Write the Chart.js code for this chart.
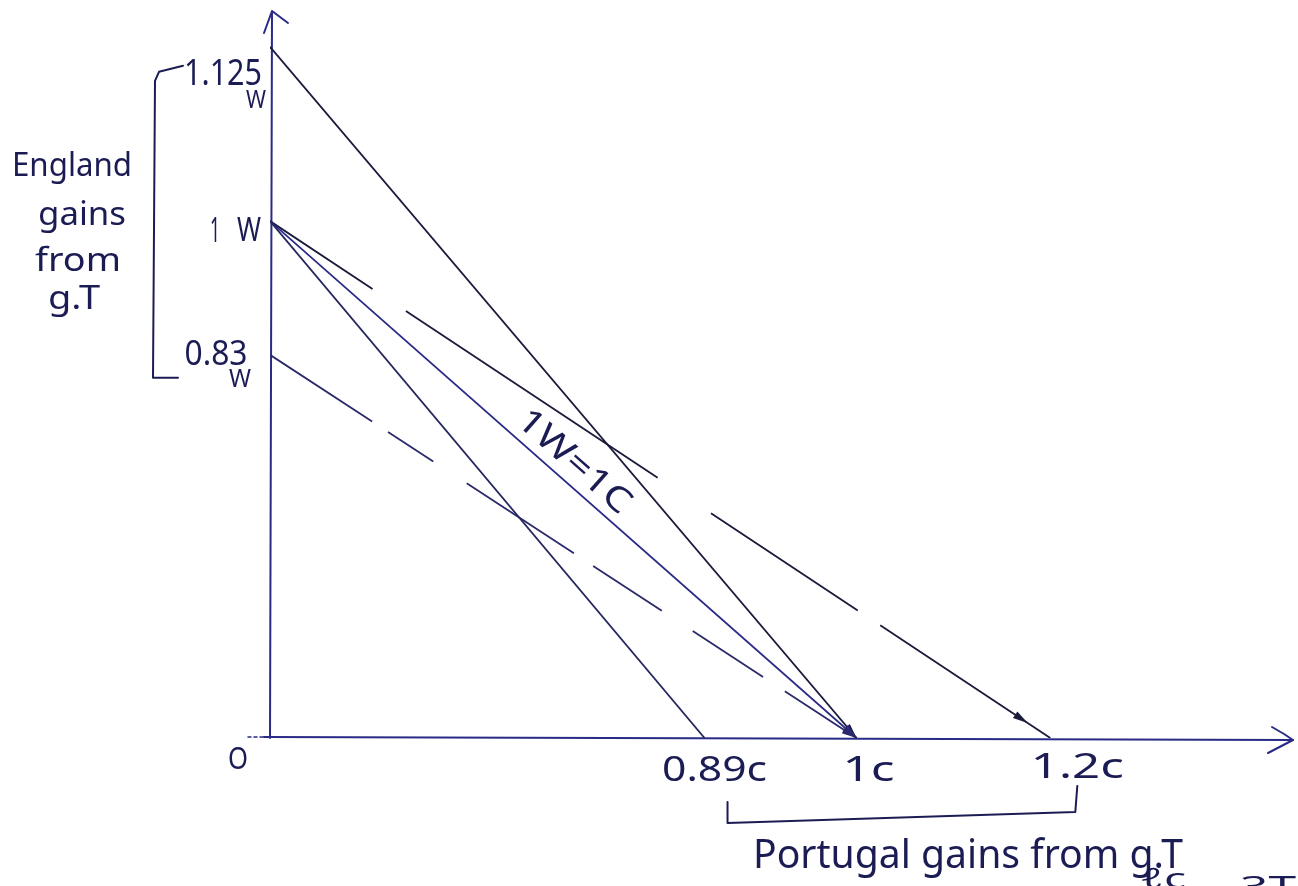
<!DOCTYPE html>
<html>
<head>
<meta charset="utf-8">
<script src="https://cdn.jsdelivr.net/npm/chart.js@4.4.1/dist/chart.umd.min.js"></script>
<style>
  html, body { margin: 0; padding: 0; background: #ffffff; }
  canvas { display: block; }
</style>
</head>
<body>
<canvas id="chart" width="1298" height="886"></canvas>
<script>
// ---------------- DATA ----------------
// England's wine quantities on the vertical axis (W)
const wineTicks = [0.83, 1, 1.125];
const wineTickLabels = ['0.83', '1', '1.125'];
// Portugal's cloth quantities on the horizontal axis (C)
const clothTicks = [0.89, 1, 1.2];
const clothTickLabels = ['0.89c', '1c', '1.2c'];
// Terms-of-trade lines: each runs from (0, startW) to (endC, 0)
const lineNames = ['1.125W-1C', '1W-0.89C', '1W=1C', '1W-1.2C', '0.83W-1C'];
const lineStartW = [1.125, 1, 1, 1, 0.83];
const lineEndC = [1, 0.89, 1, 1.2, 1];

// ---------------- STYLE / LAYOUT ----------------
const INK = '#1c1c55';
const AXIS_INK = '#2a2a88';
const FONT = '"Noto Sans", "DejaVu Sans", sans-serif';
// sketch is not drawn to scale: these stops reproduce its stretched axes
const X_AXIS_STOPS = [[0, 0], [0.89, 0.426], [1, 0.575], [1.2, 0.765], [1.6, 1]];
const Y_AXIS_STOPS = [[0, 0], [0.83, 0.530], [1, 0.715], [1.125, 0.956], [1.2, 1]];
const lineStyles = [
  { color: '#1a1a3c', dash: [], arrowAt: 1 },
  { color: '#26265e', dash: [], arrowAt: null },
  { color: '#2a2a86', dash: [], arrowAt: 1 },
  { color: '#1a1a3a', dash: [123, 40, 302, 64, 176, 27, 400], arrowAt: 0.971 },
  { color: '#2a2a6a', dash: [122, 19, 54, 40, 128, 23, 82, 37, 84, 26, 200], arrowAt: 1 }
];

class StretchScale extends Chart.LinearScale {
  static id = 'stretch';
  static defaults = Chart.LinearScale.defaults;
  _stops() { return this.axis === 'x' ? X_AXIS_STOPS : Y_AXIS_STOPS; }
  getPixelForValue(v) {
    if (v === null || v === undefined || isNaN(v)) return NaN;
    const s = this._stops();
    let d;
    if (v <= s[0][0]) d = s[0][1];
    else if (v >= s[s.length - 1][0]) d = s[s.length - 1][1];
    else {
      for (let i = 1; i < s.length; i++) {
        if (v <= s[i][0]) {
          const t = (v - s[i - 1][0]) / (s[i][0] - s[i - 1][0]);
          d = s[i - 1][1] + t * (s[i][1] - s[i - 1][1]);
          break;
        }
      }
    }
    return this.getPixelForDecimal(d);
  }
  getValueForPixel(p) {
    const d = this.getDecimalForPixel(p);
    const s = this._stops();
    for (let i = 1; i < s.length; i++) {
      if (d <= s[i][1]) {
        const t = (d - s[i - 1][1]) / (s[i][1] - s[i - 1][1]);
        return s[i - 1][0] + t * (s[i][0] - s[i - 1][0]);
      }
    }
    return s[s.length - 1][0];
  }
}
Chart.register(StretchScale);

function txt(ctx, s, cx, cy, size, width, rot) {
  ctx.save();
  ctx.font = size + 'px ' + FONT;
  ctx.fillStyle = INK;
  ctx.textAlign = 'center';
  ctx.textBaseline = 'middle';
  const m = ctx.measureText(s).width;
  ctx.translate(cx, cy);
  if (rot) ctx.rotate(rot);
  if (width) ctx.scale(width / m, 1);
  ctx.fillText(s, 0, 0);
  ctx.restore();
}

function polyline(ctx, pts, color, w) {
  ctx.save();
  ctx.strokeStyle = color;
  ctx.lineWidth = w;
  ctx.lineCap = 'round';
  ctx.lineJoin = 'round';
  ctx.beginPath();
  ctx.moveTo(pts[0][0], pts[0][1]);
  for (let i = 1; i < pts.length; i++) ctx.lineTo(pts[i][0], pts[i][1]);
  ctx.stroke();
  ctx.restore();
}

const sketchPlugin = {
  id: 'sketch',
  beforeDatasetsDraw(chart) {
    const ctx = chart.ctx;
    const a = chart.chartArea;
    // vertical axis with arrow
    polyline(ctx, [[a.left, a.bottom], [a.left + 2, a.top - 3]], AXIS_INK, 2);
    polyline(ctx, [[a.left - 6, a.top + 18], [a.left + 2, a.top - 4], [a.left + 18, a.top + 8]], AXIS_INK, 2);
    // horizontal axis with arrow
    ctx.save();
    ctx.setLineDash([3, 3]);
    polyline(ctx, [[a.left - 22, a.bottom - 1], [a.left - 6, a.bottom - 1]], AXIS_INK, 1.5);
    ctx.restore();
    polyline(ctx, [[a.left - 6, a.bottom - 1], [a.right + 3, a.bottom + 2]], AXIS_INK, 2);
    polyline(ctx, [[a.right - 18, a.bottom - 11], [a.right - 6, a.bottom - 4], [a.right + 3, a.bottom + 2], [a.right - 22, a.bottom + 15]], AXIS_INK, 2);
  },
  afterDatasetsDraw(chart) {
    const ctx = chart.ctx;
    // arrowheads on the lines
    chart.data.datasets.forEach((ds, i) => {
      const f = lineStyles[i].arrowAt;
      if (f === null) return;
      const pts = chart.getDatasetMeta(i).data;
      const x0 = pts[0].x, y0 = pts[0].y, x1 = pts[1].x, y1 = pts[1].y;
      const tx = x0 + (x1 - x0) * f, ty = y0 + (y1 - y0) * f;
      const ang = Math.atan2(y1 - y0, x1 - x0);
      const L = 15, H = 4;
      ctx.save();
      ctx.fillStyle = lineStyles[i].color;
      ctx.translate(tx, ty);
      ctx.rotate(ang);
      ctx.beginPath();
      ctx.moveTo(0, 0);
      ctx.lineTo(-L, -H);
      ctx.lineTo(-L, H);
      ctx.closePath();
      ctx.fill();
      ctx.restore();
    });
    // "1W=1C" label along its line
    const mc = chart.getDatasetMeta(2).data;
    const dx = mc[1].x - mc[0].x, dy = mc[1].y - mc[0].y;
    const len = Math.hypot(dx, dy);
    const ux = dx / len, uy = dy / len;
    const along = 387, off = 20;
    txt(ctx, lineNames[2], mc[0].x + ux * along + uy * off, mc[0].y + uy * along - ux * off,
        34, 140, Math.atan2(dy, dx));
  },
  afterDraw(chart) {
    const ctx = chart.ctx;
    const xs = chart.scales.x, ys = chart.scales.y;
    const a = chart.chartArea;
    // vertical tick labels (W)
    const yl = wineTicks.map(v => ys.getPixelForValue(v));
    txt(ctx, wineTickLabels[0], 216, yl[0] + 1, 34, 63);
    txt(ctx, 'W', 240, yl[0] + 25, 26, 22);
    txt(ctx, wineTickLabels[1], 215, yl[1] + 11, 34, 10);
    txt(ctx, 'W', 249, yl[1] + 11, 32, 24);
    txt(ctx, wineTickLabels[2], 223, yl[2] + 28, 36, 78);
    txt(ctx, 'W', 256, yl[2] + 54, 26, 20);
    // horizontal tick labels (C)
    const xl = clothTicks.map(v => xs.getPixelForValue(v));
    txt(ctx, clothTickLabels[0], xl[0] + 10, a.bottom + 33, 34, 105);
    txt(ctx, clothTickLabels[1], xl[1] + 12, a.bottom + 33, 34, 52);
    txt(ctx, clothTickLabels[2], xl[2] + 27, a.bottom + 30, 34, 93);
    // origin
    txt(ctx, 'O', a.left - 32, a.bottom + 22, 30, 20);
    // England bracket and text
    polyline(ctx, [[183, yl[2] + 19], [159, yl[2] + 25], [155, yl[2] + 34], [153, yl[0] + 23], [178, yl[0] + 23]], INK, 2);
    txt(ctx, 'England', 72, 167, 32, 120);
    txt(ctx, 'gains', 82, 216, 32, 88);
    txt(ctx, 'from', 78, 262, 32, 86);
    txt(ctx, 'g.T', 74, 300, 32, 52);
    // Portugal bracket and text
    const bx0 = xl[0] + 23, bx1 = xl[2] + 27;
    polyline(ctx, [[bx0, 802], [bx0, 823], [bx1 - 2, 812], [bx1, 786]], INK, 2);
    txt(ctx, 'Portugal gains from g.T', 968, 857, 40, 430);
    // cut-off handwriting at the bottom edge
    txt(ctx, 'ℓc', 1163, 880, 28, 46);
    txt(ctx, '3T', 1268, 888, 28, 56);
  }
};

new Chart(document.getElementById('chart'), {
  type: 'scatter',
  data: {
    datasets: lineNames.map((name, i) => ({
      label: name,
      data: [{ x: 0, y: lineStartW[i] }, { x: lineEndC[i], y: 0 }],
      showLine: true,
      borderColor: lineStyles[i].color,
      borderWidth: 1.8,
      borderDash: lineStyles[i].dash,
      pointRadius: 0,
      fill: false,
      tension: 0
    }))
  },
  options: {
    responsive: false,
    animation: false,
    devicePixelRatio: 1,
    layout: { padding: { left: 270, right: 8, top: 15, bottom: 148 } },
    plugins: { legend: { display: false }, tooltip: { enabled: false } },
    scales: {
      x: { type: 'stretch', min: 0, max: 1.6, display: false },
      y: { type: 'stretch', min: 0, max: 1.2, display: false }
    }
  },
  plugins: [sketchPlugin]
});
</script>
</body>
</html>
